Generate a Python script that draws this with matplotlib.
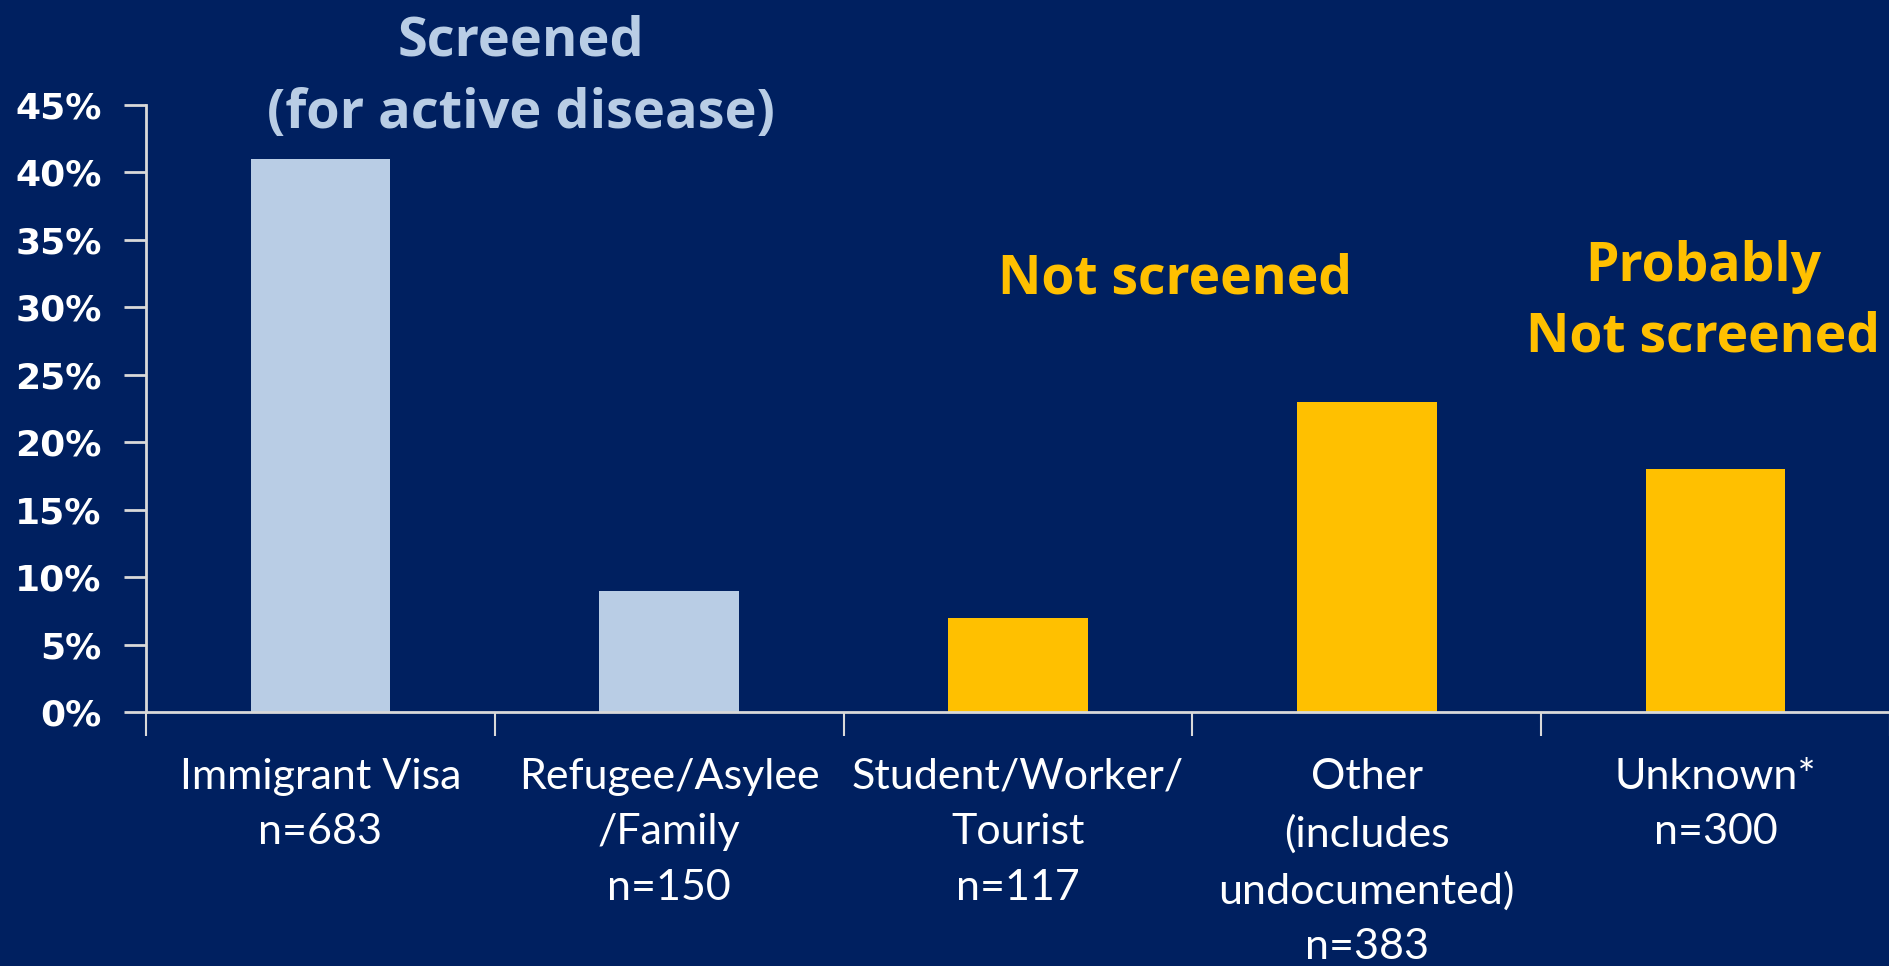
import matplotlib
matplotlib.use("Agg")
import matplotlib.pyplot as plt
from matplotlib.ticker import FixedLocator, FuncFormatter

categories = ["Immigrant Visa\nn=683", "Refugee/Asylee\n/Family\nn=150",
              "Student/Worker/\nTourist\nn=117", "Other\n(includes\nundocumented)\nn=383",
              "Unknown*\nn=300"]
values = [41, 9, 7, 23, 18]
groups = ["screened", "screened", "not", "not", "not"]
yticks = [0, 5, 10, 15, 20, 25, 30, 35, 40, 45]

BG = "#002060"
LIGHT = "#B9CDE5"
GOLD = "#FFC000"
AXC = "#D9D9D9"
colors = [LIGHT if g == "screened" else GOLD for g in groups]

fig = plt.figure(figsize=(18.9, 9.66), dpi=100, facecolor=BG)
ax = fig.add_axes([146/1890, 1-712/966, 1-146/1890, (712-105)/966])
ax.set_facecolor(BG)

x = list(range(len(categories)))
ax.bar(x, values, width=0.4, color=colors, zorder=2)

ax.set_xlim(-0.5, 4.5)
ax.set_ylim(0, 45)
for s in ["top", "right"]:
    ax.spines[s].set_visible(False)
for s in ["left", "bottom"]:
    ax.spines[s].set_color(AXC)
    ax.spines[s].set_linewidth(2)

ax.yaxis.set_major_locator(FixedLocator(yticks))
ax.yaxis.set_major_formatter(FuncFormatter(lambda v, p: f"{int(v)}%"))
ax.tick_params(axis="y", length=16, width=2, color=AXC, pad=16,
               labelcolor="white", labelsize=26)
for lab in ax.get_yticklabels():
    lab.set_fontweight("bold")
    lab.set_family("DejaVu Sans")

ax.set_xticks(x)
ax.set_xticklabels(categories, fontsize=31, color="white", family="Lato",
                   linespacing=1.56, va="top")
ax.tick_params(axis="x", which="major", length=0, pad=33)
ax.set_xticks([i + 0.5 for i in range(-1, 5)], minor=True)
ax.tick_params(axis="x", which="minor", length=17, width=1.5, color=AXC)

fig.text(521/1890, 1-77.8/966, "Screened\n(for active disease)", color=LIGHT,
         fontsize=39, fontweight="bold", family="Open Sans", ha="center", va="center",
         linespacing=1.45)
fig.text(1175/1890, 1-280/966, "Not screened", color=GOLD,
         fontsize=38.5, fontweight="bold", family="Open Sans", ha="center", va="center")
fig.text(1703/1890, 1-302.6/966, "Probably\nNot screened", color=GOLD,
         fontsize=38.5, fontweight="bold", family="Open Sans", ha="center", va="center",
         linespacing=1.4)

fig.savefig("out.png", dpi=100, facecolor=BG)
